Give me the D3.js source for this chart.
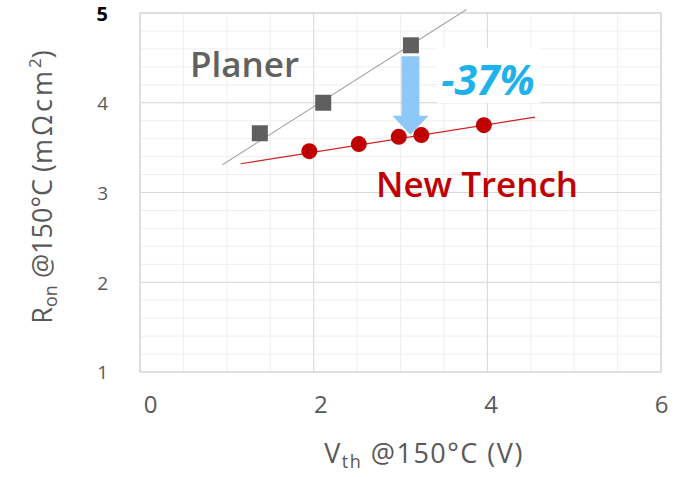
<!DOCTYPE html>
<html>
<head>
<meta charset="utf-8">
<script src="https://cdn.jsdelivr.net/npm/d3@7"></script>
<style>
  html, body { margin: 0; padding: 0; background: #fff; }
  svg { display: block; }
  svg text { font-family: "Open Sans", "Noto Sans", sans-serif; }
</style>
</head>
<body>
<svg id="chart" width="679" height="477"></svg>
<script>
// Planar devices: Vth (V) and Ron (mΩcm²) at 150°C
const planerVth = [1.38, 2.11, 3.12];
const planerRon = [3.66, 4.00, 4.64];
// New trench devices
const trenchVth = [1.95, 2.52, 2.98, 3.24, 3.96];
const trenchRon = [3.46, 3.54, 3.62, 3.64, 3.75];
// Fitted trend lines (endpoints)
const planerFitVth = [0.95, 3.76];
const planerFitRon = [3.31, 5.04];
const trenchFitVth = [1.16, 4.55];
const trenchFitRon = [3.32, 3.84];
// Axis ticks
const xTicks = [0, 2, 4, 6];
const yTicks = [1, 2, 3, 4, 5];
const reduction = "-37%";

const svg = d3.select("#chart");
const plotL = 140, plotR = 661, plotT = 13, plotB = 372;
const FONT = '"Open Sans", "Noto Sans", sans-serif';

const x = d3.scaleLinear().domain([0, 6]).range([plotL, plotR]);
const y = d3.scaleLinear().domain([1, 5]).range([plotB, plotT]);
// tick labels sit slightly right of their gridlines
const xLabel = d3.scaleLinear().domain([0, 6]).range([150, 661]);

// minor grid
const g = svg.append("g");
g.selectAll(".vminor").data(d3.range(0, 6.01, 0.5)).join("line")
  .attr("x1", d => x(d)).attr("x2", d => x(d)).attr("y1", plotT).attr("y2", plotB)
  .attr("stroke", "#efefef").attr("stroke-width", 1);
g.selectAll(".hminor").data(d3.range(1, 5.01, 0.2)).join("line")
  .attr("y1", d => y(d)).attr("y2", d => y(d)).attr("x1", plotL).attr("x2", plotR)
  .attr("stroke", "#efefef").attr("stroke-width", 1);
// major grid
g.selectAll(".vmajor").data(xTicks).join("line")
  .attr("x1", d => x(d)).attr("x2", d => x(d)).attr("y1", plotT).attr("y2", plotB)
  .attr("stroke", "#d9d9d9").attr("stroke-width", 1);
g.selectAll(".hmajor").data(yTicks).join("line")
  .attr("y1", d => y(d)).attr("y2", d => y(d)).attr("x1", plotL).attr("x2", plotR)
  .attr("stroke", "#d9d9d9").attr("stroke-width", 1);
g.append("rect").attr("x", plotL).attr("y", plotT).attr("width", plotR - plotL).attr("height", plotB - plotT)
  .attr("fill", "none").attr("stroke", "#d9d9d9").attr("stroke-width", 1.2);

// axes (labels only)
const xAxis = svg.append("g").attr("transform", `translate(0,${plotB + 23})`)
  .call(d3.axisBottom(xLabel).tickValues(xTicks).tickSize(0).tickFormat(d3.format("d")));
xAxis.select(".domain").remove();
xAxis.selectAll("text").attr("fill", "#595959").attr("font-size", 24)
  .attr("font-family", FONT).attr("y", 0).attr("dy", "0.76em");

const yAxis = svg.append("g").attr("transform", `translate(108,0)`)
  .call(d3.axisLeft(y).tickValues(yTicks).tickSize(0).tickFormat(d3.format("d")));
yAxis.select(".domain").remove();
yAxis.selectAll("text").attr("fill", d => d === 5 ? "#000" : "#595959")
  .attr("font-weight", d => d === 5 ? 700 : 400)
  .attr("font-family", FONT)
  .attr("font-size", d => d === 5 ? 20 : 19).attr("x", 0).attr("dy", "0.36em");

// axis titles
const xt = svg.append("text").attr("x", 424).attr("y", 463).attr("text-anchor", "middle")
  .attr("fill", "#595959").attr("font-size", 27).attr("letter-spacing", 1.5);
xt.append("tspan").text("V");
xt.append("tspan").text("th").attr("font-size", 18).attr("dy", 5);
xt.append("tspan").text(" @150°C (V)").attr("dy", -5);

const yt = svg.append("text").attr("transform", "translate(52,187) rotate(-90)")
  .attr("text-anchor", "middle").attr("fill", "#595959").attr("font-size", 27).attr("font-weight", 500);
yt.append("tspan").text("R");
yt.append("tspan").text("on").attr("font-size", 18).attr("dy", 5);
yt.append("tspan").text(" @150°C (").attr("dy", -5);
yt.append("tspan").text("mΩcm").attr("letter-spacing", 3);
yt.append("tspan").text("2").attr("font-size", 17).attr("dy", -11);
yt.append("tspan").text(")").attr("font-size", 27).attr("dy", 11);

// trend lines
const line = d3.line().x(d => x(d[0])).y(d => y(d[1]));
svg.append("path").datum(d3.zip(planerFitVth, planerFitRon)).attr("d", line)
  .attr("fill", "none").attr("stroke", "#a6a6a6").attr("stroke-width", 1.2);
svg.append("path").datum(d3.zip(trenchFitVth, trenchFitRon)).attr("d", line)
  .attr("fill", "none").attr("stroke", "#d32020").attr("stroke-width", 1.2);

// planar markers
const sq = 16;
svg.selectAll(".planer").data(d3.zip(planerVth, planerRon)).join("rect")
  .attr("x", d => x(d[0]) - sq / 2).attr("y", d => y(d[1]) - sq / 2)
  .attr("width", sq).attr("height", sq).attr("fill", "#5f5f5f");

// trench markers
svg.selectAll(".trench").data(d3.zip(trenchVth, trenchRon)).join("circle")
  .attr("cx", d => x(d[0])).attr("cy", d => y(d[1])).attr("r", 8)
  .attr("fill", "#c00000");

// reduction arrow from the highest planar point down to the trench line
const ax = x(planerVth[2]) - 0.5;
const aTop = y(planerRon[2]) + 11;
const aTip = y(trenchRon[2]) - 2;
const headH = 19, shaftW = 18, headW = 36;
svg.append("path")
  .attr("d", `M${ax - shaftW / 2},${aTop} H${ax + shaftW / 2} V${aTip - headH} H${ax + headW / 2} L${ax},${aTip} L${ax - headW / 2},${aTip - headH} H${ax - shaftW / 2} Z`)
  .attr("fill", "#8ec8f6");

// reduction label
svg.append("rect").attr("x", 437).attr("y", 48).attr("width", 103).attr("height", 55).attr("fill", "#fff");
svg.append("text").attr("x", 488).attr("y", 95).attr("text-anchor", "middle")
  .attr("fill", "#1fb1eb").attr("font-size", 41).attr("font-weight", 700).attr("font-style", "italic")
  .text(reduction);

// series labels
svg.append("text").attr("x", 190).attr("y", 77).attr("fill", "#616161")
  .attr("font-size", 35).attr("font-weight", 600).text("Planer");
svg.append("text").attr("x", 376).attr("y", 197).attr("fill", "#c00000")
  .attr("font-size", 35).attr("font-weight", 600).text("New Trench");
</script>
</body>
</html>
